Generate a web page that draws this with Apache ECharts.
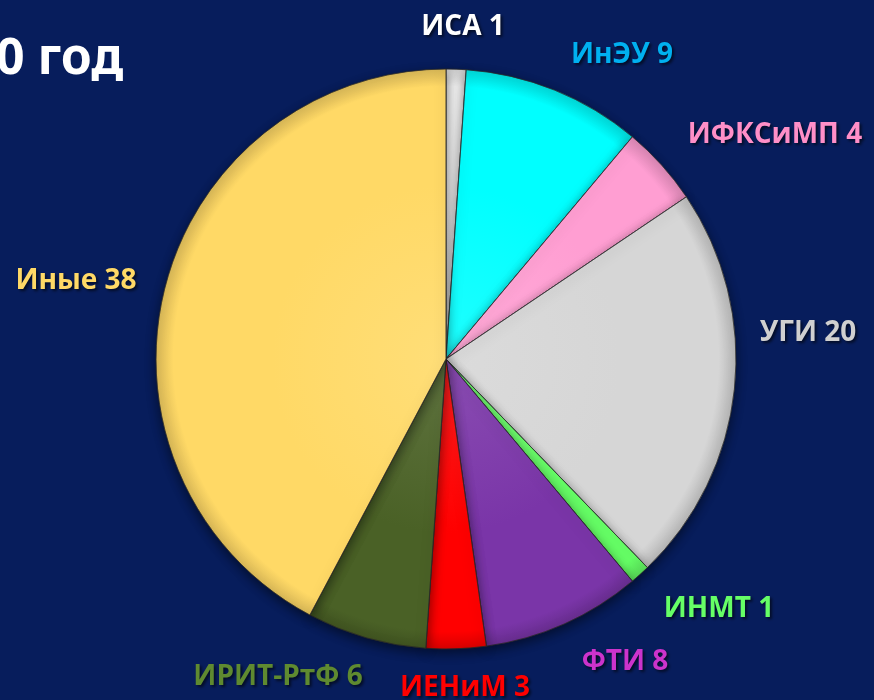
<!DOCTYPE html>
<html><head><meta charset="utf-8">
<script src="https://cdn.jsdelivr.net/npm/echarts@6/dist/echarts.min.js"></script>
<style>html,body{margin:0;padding:0;background:#071d5c}#c{width:874px;height:700px}</style>
</head><body><div id="c"></div>
<script>
const categories = ['ИСА','ИнЭУ','ИФКСиМП','УГИ','ИНМТ','ФТИ','ИЕНиМ','ИРИТ-РтФ','Иные'];
const values = [1, 9, 4, 20, 1, 8, 3, 6, 38];
const sliceColors = ['#f4f4f4','#00ffff','#ff9ed2','#d6d6d6','#66ff66','#7a35a8','#ff0000','#4a6126','#ffd966'];
const labelColors = ['#ffffff','#00b0f0','#ff8fc8','#d0d0d0','#66ff66','#cc33cc','#ff0000','#5f8a30','#ffd966'];
const labelAnchors = [[463,27],[622,55],[775,135],[808,333],[719,609],[625,662],[465,688],[278,677],[76,281]];

function shade(hex, f){
  const n = parseInt(hex.slice(1),16);
  let r=(n>>16)&255,g=(n>>8)&255,b=n&255;
  if(f<0){r=Math.round(r*(1+f));g=Math.round(g*(1+f));b=Math.round(b*(1+f));}
  else{r=Math.round(r+(255-r)*f);g=Math.round(g+(255-g)*f);b=Math.round(b+(255-b)*f);}
  return 'rgb('+r+','+g+','+b+')';
}
const CX=446, CY=359, R=290;
function grad(c){
  return {type:'radial', x:CX, y:CY, r:R, global:true, colorStops:[
    {offset:0, color:shade(c,0.12)},{offset:0.6, color:c},{offset:0.94, color:c},{offset:1, color:shade(c,-0.15)}]};
}

const chart = echarts.init(document.getElementById('c'));
chart.setOption({
  backgroundColor: '#071d5c',
  graphic: [{type:'text', left: -4, top: 35, style:{text:'0 год', fill:'#ffffff', font:'bold 50px "Liberation Sans Narrow", "Noto Sans", sans-serif'}}],
  series: [{
    type: 'pie',
    center: [CX, CY],
    radius: [0, R],
    startAngle: 90,
    clockwise: true,
    avoidLabelOverlap: false,
    data: categories.map((n,i)=>({name:n, value:values[i],
      itemStyle:{color: grad(sliceColors[i])},
      label:{color: labelColors[i]}})),
    itemStyle: {borderColor:'rgba(40,40,40,0.5)', borderWidth:1, shadowBlur:12, shadowColor:'rgba(0,0,0,0.5)', shadowOffsetY:4},
    label: {show:true, position:'outside', formatter:'{b} {c}', fontFamily:'"Open Sans", sans-serif', fontWeight:'bold', fontSize:28,
      textShadowColor:'rgba(0,0,0,0.6)', textShadowBlur:3, textShadowOffsetX:2, textShadowOffsetY:2},
    labelLine: {show:false},
    labelLayout: function(p){ const a = labelAnchors[p.dataIndex]; return {x:a[0], y:a[1], align:'center', verticalAlign:'middle'}; },
    emphasis: {disabled:true}
  }]
});
</script></body></html>
